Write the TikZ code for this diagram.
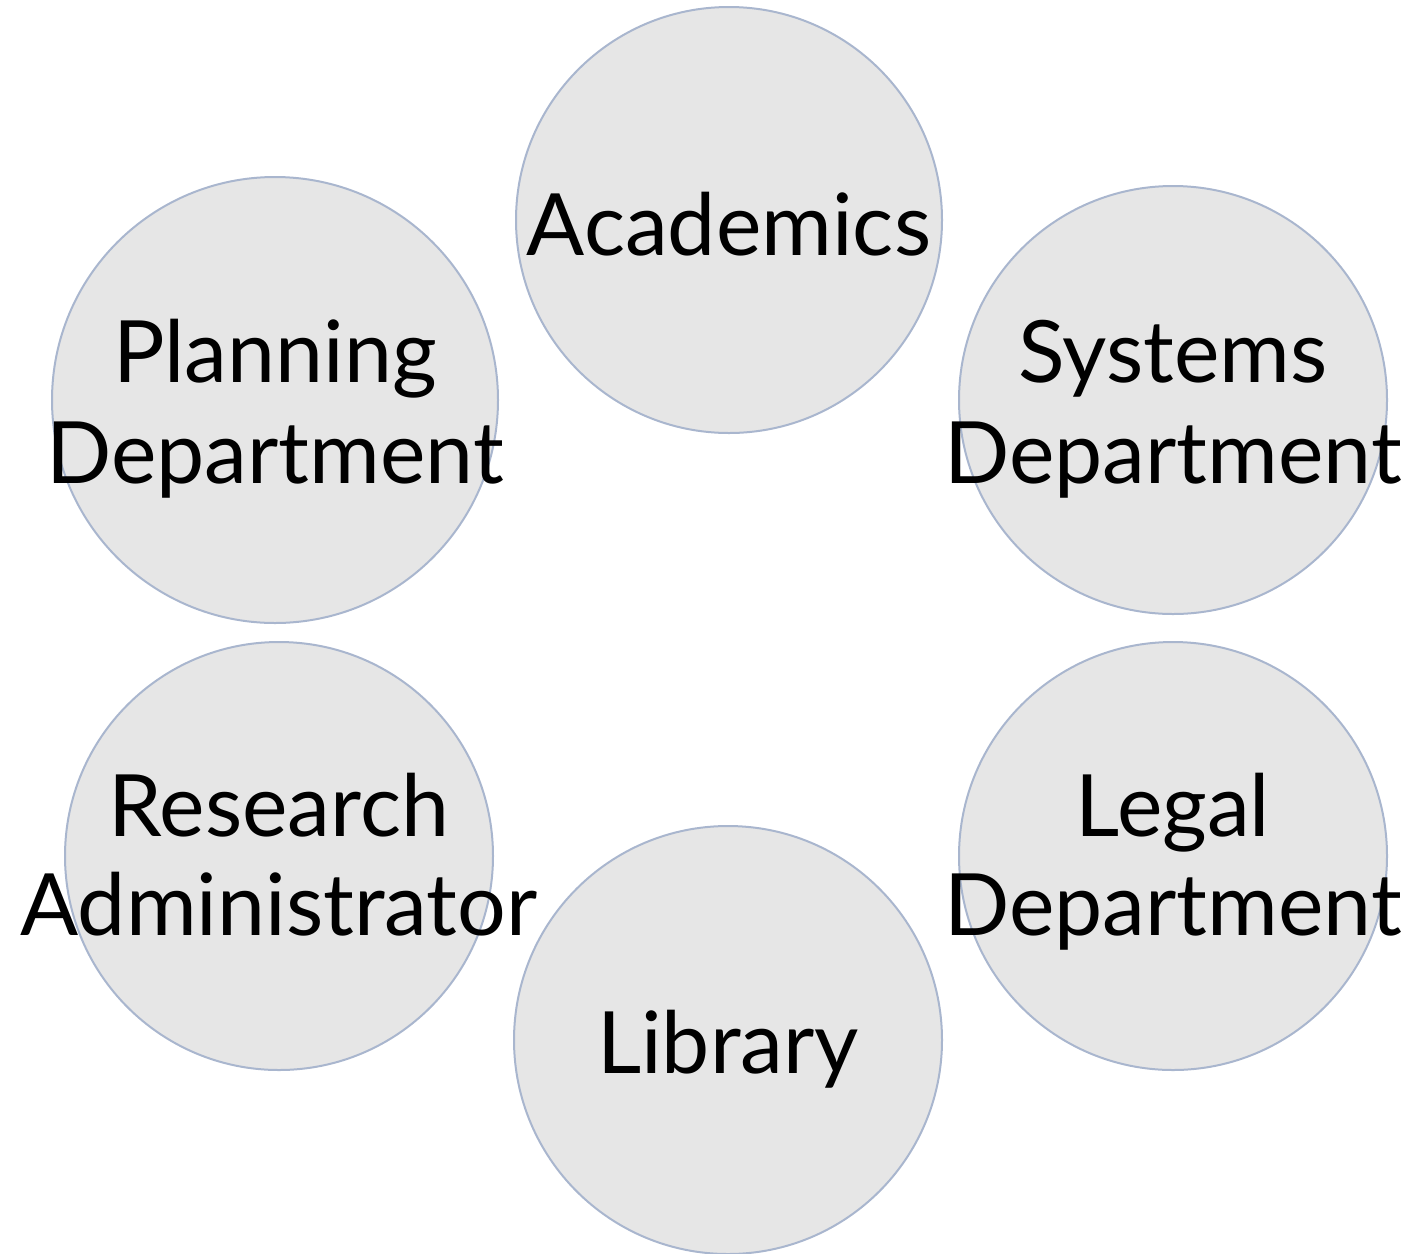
\documentclass[tikz,border=0pt]{standalone}
\usepackage{fontspec}
\setmainfont{Lato}
\definecolor{cfill}{HTML}{E6E6E6}
\definecolor{cline}{HTML}{A9B6CE}
\begin{document}
\begin{tikzpicture}[x=0.5pt,y=-0.5pt,
  bubble/.style={circle,fill=cfill,draw=cline,line width=1pt,inner sep=0pt,minimum size=#1},
  lbl/.style={anchor=base,inner sep=0pt,font=\fontsize{43}{50}\selectfont}]
\useasboundingbox (0,0) rectangle (1406,1253);
\node[bubble=213pt] (acad) at (729,220) {};
\node[bubble=223pt] (plan) at (275,400) {};
\node[bubble=214pt] (sys) at (1173,400) {};
\node[bubble=214pt] (res) at (279,856) {};
\node[bubble=214pt] (legal) at (1173,856) {};
\node[bubble=214pt] (lib) at (728,1040) {};
\node[lbl] (tacad) at (729,255) {Academics};
\node[lbl] (tplan1) at (275,382) {Planning};
\node[lbl] (tplan2) at (275,483) {Department};
\node[lbl] (tsys1) at (1173,382) {Systems};
\node[lbl] (tsys2) at (1173,483) {Department};
\node[lbl] (tres1) at (279,836) {Research};
\node[lbl] (tres2) at (279,935) {Administrator};
\node[lbl] (tleg1) at (1173,836) {Legal};
\node[lbl] (tleg2) at (1173,935) {Department};
\node[lbl] (tlib) at (728,1073) {Library};
\end{tikzpicture}
\end{document}
